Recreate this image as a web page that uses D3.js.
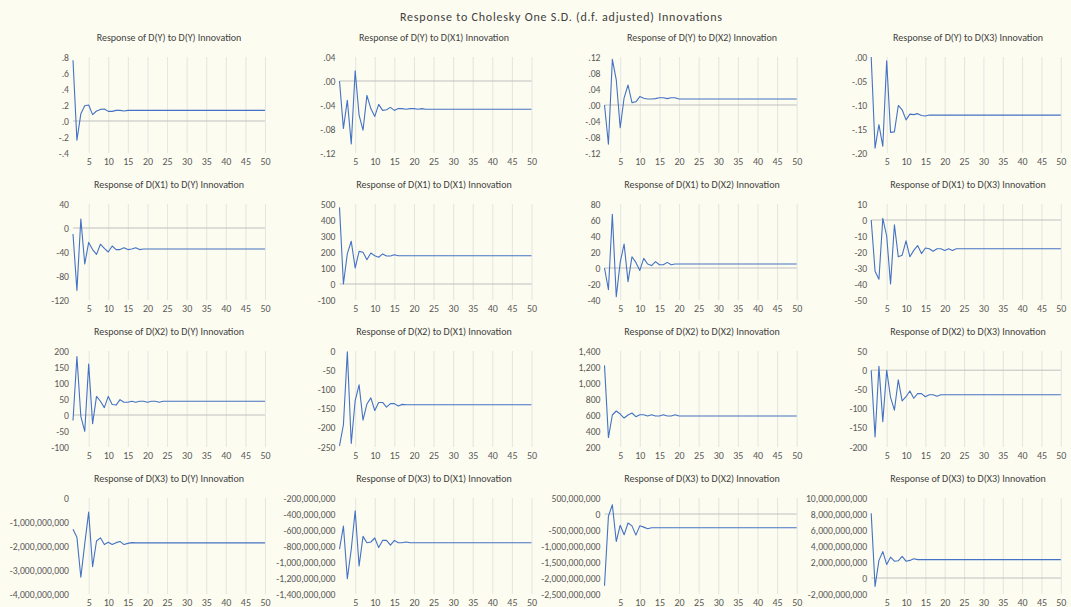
<!DOCTYPE html>
<html>
<head>
<meta charset="utf-8">
<script src="https://cdn.jsdelivr.net/npm/d3@7"></script>
<style>
body { margin: 0; background: #fdfcf0; }
svg text { font-family: Calibri, Carlito, Lato, "Liberation Sans", sans-serif; }
</style>
</head>
<body>
<script>
// periods 1..50 on the x axis, labels every 5
const periods = d3.range(1, 51);
const xTicks = [5, 10, 15, 20, 25, 30, 35, 40, 45, 50];

const mainTitle = "Response to Cholesky One S.D. (d.f. adjusted) Innovations";
const names = ["D(Y)", "D(X1)", "D(X2)", "D(X3)"];

// responses of D(Y)
const y_y  = [0.76,-0.24,0.09,0.19,0.20,0.08,0.125,0.145,0.15,0.12,0.12,0.133,0.133,0.125,0.133,0.133,0.133,0.133,0.133,0.133,0.133,0.133,0.133,0.133,0.133,0.133,0.133,0.133,0.133,0.133,0.133,0.133,0.133,0.133,0.133,0.133,0.133,0.133,0.133,0.133,0.133,0.133,0.133,0.133,0.133,0.133,0.133,0.133,0.133,0.133];
const y_x1 = [0,-0.079,-0.032,-0.105,0.017,-0.057,-0.082,-0.024,-0.046,-0.059,-0.039,-0.049,-0.048,-0.044,-0.049,-0.046,-0.046,-0.047,-0.046,-0.046,-0.047,-0.046,-0.047,-0.047,-0.047,-0.047,-0.047,-0.047,-0.047,-0.047,-0.047,-0.047,-0.047,-0.047,-0.047,-0.047,-0.047,-0.047,-0.047,-0.047,-0.047,-0.047,-0.047,-0.047,-0.047,-0.047,-0.047,-0.047,-0.047,-0.047];
const y_x2 = [0,-0.098,0.114,0.063,-0.057,0.018,0.05,0.006,0.008,0.021,0.017,0.015,0.015,0.016,0.018,0.018,0.016,0.018,0.018,0.015,0.015,0.015,0.015,0.015,0.015,0.015,0.015,0.015,0.015,0.015,0.015,0.015,0.015,0.015,0.015,0.015,0.015,0.015,0.015,0.015,0.015,0.015,0.015,0.015,0.015,0.015,0.015,0.015,0.015,0.015];
const y_x3 = [0,-0.19,-0.141,-0.186,-0.008,-0.157,-0.156,-0.101,-0.11,-0.131,-0.119,-0.12,-0.118,-0.122,-0.123,-0.121,-0.121,-0.121,-0.121,-0.121,-0.121,-0.121,-0.121,-0.121,-0.121,-0.121,-0.121,-0.121,-0.121,-0.121,-0.121,-0.121,-0.121,-0.121,-0.121,-0.121,-0.121,-0.121,-0.121,-0.121,-0.121,-0.121,-0.121,-0.121,-0.121,-0.121,-0.121,-0.121,-0.121,-0.121];

// responses of D(X1)
const x1_y  = [-10,-104,15,-60,-24,-36,-44,-27,-34,-40,-30,-36,-36,-33,-36,-35,-33,-36,-35,-35,-35,-35,-35,-35,-35,-35,-35,-35,-35,-35,-35,-35,-35,-35,-35,-35,-35,-35,-35,-35,-35,-35,-35,-35,-35,-35,-35,-35,-35,-35];
const x1_x1 = [479,0,190,267,100,204,198,152,194,177,167,188,175,175,183,177,177,177,177,177,177,177,177,177,177,177,177,177,177,177,177,177,177,177,177,177,177,177,177,177,177,177,177,177,177,177,177,177,177,177];
const x1_x2 = [0,-27,67,-36,7,30,-17,14,7,-3,12,5,3,8,4,4,7,4,5,5,5,5,5,5,5,5,5,5,5,5,5,5,5,5,5,5,5,5,5,5,5,5,5,5,5,5,5,5,5,5];
const x1_x3 = [0,-32,-37,1,-10,-40,-3,-23,-22,-13,-23,-19,-16,-21,-17.5,-18,-19.5,-18,-18,-19,-18,-19,-18,-18,-18,-18,-18,-18,-18,-18,-18,-18,-18,-18,-18,-18,-18,-18,-18,-18,-18,-18,-18,-18,-18,-18,-18,-18,-18,-18];

// responses of D(X2)
const x2_y  = [-17,183,-4,-51,159,-27,58,43,23,58,33,31,48,40,40,43,40,43,43,40,43,43,40,43,43,43,43,43,43,43,43,43,43,43,43,43,43,43,43,43,43,43,43,43,43,43,43,43,43,43];
const x2_x1 = [-247,-192,-2,-241,-129,-88,-180,-138,-122,-155,-134,-134,-146,-137,-137,-143,-139,-140,-140,-140,-140,-140,-140,-140,-140,-140,-140,-140,-140,-140,-140,-140,-140,-140,-140,-140,-140,-140,-140,-140,-140,-140,-140,-140,-140,-140,-140,-140,-140,-140];
const x2_x2 = [1220,318,600,650,612,562,600,625,579,604,604,587,604,587,587,604,587,587,604,587,588,588,588,588,588,588,588,588,588,588,588,588,588,588,588,588,588,588,588,588,588,588,588,588,588,588,588,588,588,588];
const x2_x3 = [0,-174,10,-134,0,-71,-104,-25,-80,-69,-54,-73,-61,-61,-69,-64,-64,-68,-64,-64,-64,-64,-64,-64,-64,-64,-64,-64,-64,-64,-64,-64,-64,-64,-64,-64,-64,-64,-64,-64,-64,-64,-64,-64,-64,-64,-64,-64,-64,-64];

// responses of D(X3)
const x3_y  = [-1.3e9,-1.64e9,-3.3e9,-1.9e9,-0.59e9,-2.86e9,-1.79e9,-1.66e9,-1.94e9,-1.84e9,-1.94e9,-1.86e9,-1.81e9,-1.94e9,-1.89e9,-1.86e9,-1.87e9,-1.87e9,-1.87e9,-1.87e9,-1.87e9,-1.87e9,-1.87e9,-1.87e9,-1.87e9,-1.87e9,-1.87e9,-1.87e9,-1.87e9,-1.87e9,-1.87e9,-1.87e9,-1.87e9,-1.87e9,-1.87e9,-1.87e9,-1.87e9,-1.87e9,-1.87e9,-1.87e9,-1.87e9,-1.87e9,-1.87e9,-1.87e9,-1.87e9,-1.87e9,-1.87e9,-1.87e9,-1.87e9,-1.87e9];
const x3_x1 = [-8.4e8,-5.5e8,-12.1e8,-8.4e8,-3.6e8,-10.5e8,-6.8e8,-7.6e8,-7.5e8,-7.0e8,-8.2e8,-7.3e8,-7.3e8,-7.9e8,-7.3e8,-7.6e8,-7.6e8,-7.5e8,-7.6e8,-7.6e8,-7.6e8,-7.6e8,-7.6e8,-7.6e8,-7.6e8,-7.6e8,-7.6e8,-7.6e8,-7.6e8,-7.6e8,-7.6e8,-7.6e8,-7.6e8,-7.6e8,-7.6e8,-7.6e8,-7.6e8,-7.6e8,-7.6e8,-7.6e8,-7.6e8,-7.6e8,-7.6e8,-7.6e8,-7.6e8,-7.6e8,-7.6e8,-7.6e8,-7.6e8,-7.6e8];
const x3_x2 = [-22.4e8,-0.7e8,2.9e8,-8.6e8,-3.5e8,-6.5e8,-2.8e8,-3.7e8,-6.6e8,-3.7e8,-4.1e8,-4.6e8,-4.3e8,-4.3e8,-4.3e8,-4.3e8,-4.3e8,-4.3e8,-4.3e8,-4.3e8,-4.3e8,-4.3e8,-4.3e8,-4.3e8,-4.3e8,-4.3e8,-4.3e8,-4.3e8,-4.3e8,-4.3e8,-4.3e8,-4.3e8,-4.3e8,-4.3e8,-4.3e8,-4.3e8,-4.3e8,-4.3e8,-4.3e8,-4.3e8,-4.3e8,-4.3e8,-4.3e8,-4.3e8,-4.3e8,-4.3e8,-4.3e8,-4.3e8,-4.3e8,-4.3e8];
const x3_x3 = [8.1e9,-1.05e9,2.2e9,3.3e9,1.7e9,2.6e9,2.1e9,2.15e9,2.7e9,2.1e9,2.2e9,2.4e9,2.3e9,2.3e9,2.3e9,2.3e9,2.3e9,2.3e9,2.3e9,2.3e9,2.3e9,2.3e9,2.3e9,2.3e9,2.3e9,2.3e9,2.3e9,2.3e9,2.3e9,2.3e9,2.3e9,2.3e9,2.3e9,2.3e9,2.3e9,2.3e9,2.3e9,2.3e9,2.3e9,2.3e9,2.3e9,2.3e9,2.3e9,2.3e9,2.3e9,2.3e9,2.3e9,2.3e9,2.3e9,2.3e9];

// y tick values per panel (row = response, col = innovation)
const yTicks = [
  [[0.8,0.6,0.4,0.2,0,-0.2,-0.4], [0.04,0,-0.04,-0.08,-0.12], [0.12,0.08,0.04,0,-0.04,-0.08,-0.12], [0,-0.05,-0.10,-0.15,-0.20]],
  [[40,0,-40,-80,-120], [500,400,300,200,100,0,-100], [80,60,40,20,0,-20,-40], [10,0,-10,-20,-30,-40,-50]],
  [[200,150,100,50,0,-50,-100], [0,-50,-100,-150,-200,-250], [1400,1200,1000,800,600,400,200], [50,0,-50,-100,-150,-200]],
  [[0,-1e9,-2e9,-3e9,-4e9], [-2e8,-4e8,-6e8,-8e8,-1e9,-1.2e9,-1.4e9], [5e8,0,-5e8,-1e9,-1.5e9,-2e9,-2.5e9], [1e10,8e9,6e9,4e9,2e9,0,-2e9]]
];
const yDecimals = [[1,2,2,2],[-1,-1,-1,-1],[-1,-1,-1,-1],[-1,-1,-1,-1]];

const series = [
  [y_y, y_x1, y_x2, y_x3],
  [x1_y, x1_x1, x1_x2, x1_x3],
  [x2_y, x2_x1, x2_x2, x2_x3],
  [x3_y, x3_x1, x3_x2, x3_x3]
];

const W = 1071, H = 607;
const colLeft = [73, 339.5, 604.5, 871.2];
const colRight = [265, 531.5, 796.7, 1060.8];
const colTitleX = [169, 434, 702, 968];
const rowTop = [57, 204, 351, 498];
const plotH = 96;
const font = "Calibri, Carlito, Lato, sans-serif";

const svg = d3.select("body").append("svg")
  .attr("width", W)
  .attr("height", H);

svg.append("text")
  .attr("x", 561)
  .attr("y", 21)
  .attr("text-anchor", "middle")
  .attr("font-size", 12)
  .attr("fill", "#404040")
  .attr("textLength", 322)
  .attr("lengthAdjust", "spacing")
  .text(mainTitle);

function fmt(dec) {
  if (dec < 0) return v => d3.format(",")(v).replace("\u2212", "-");
  return v => d3.format("." + dec + "f")(v).replace("\u2212", "-").replace(/^(-?)0\./, "$1.");
}

for (let r = 0; r < 4; r++) {
  for (let c = 0; c < 4; c++) {
    const ticks = yTicks[r][c];
    const top = rowTop[r], bottom = top + plotH;
    const x = d3.scaleLinear().domain([1, 50]).range([colLeft[c], colRight[c]]);
    const y = d3.scaleLinear().domain([d3.min(ticks), d3.max(ticks)]).range([bottom, top]);
    const g = svg.append("g");

    g.append("text")
      .attr("x", colTitleX[c])
      .attr("y", top - 16.5)
      .attr("text-anchor", "middle")
      .attr("font-size", 10)
      .attr("fill", "#404040")
      .text("Response of " + names[r] + " to " + names[c] + " Innovation");

    // vertical gridlines
    const grid = g.append("g")
      .attr("transform", "translate(0," + bottom + ")")
      .call(d3.axisBottom(x).tickValues(xTicks).tickSize(-plotH).tickFormat(""));
    grid.select(".domain").remove();
    grid.selectAll("line").attr("stroke", "#dedede").attr("stroke-width", 0.8);

    // zero line
    if (y.domain()[0] < 0 && y.domain()[1] > 0) {
      g.append("line")
        .attr("x1", x(1)).attr("x2", x(50))
        .attr("y1", y(0)).attr("y2", y(0))
        .attr("stroke", "#bfbfbf")
        .attr("stroke-width", 1);
    }

    const xAxis = g.append("g")
      .attr("transform", "translate(0," + bottom + ")")
      .call(d3.axisBottom(x).tickValues(xTicks).tickSize(0).tickPadding(5));
    xAxis.select(".domain").remove();
    xAxis.selectAll("text").attr("font-size", 10).attr("fill", "#595959")
      .style("font-family", font);

    const yAxis = g.append("g")
      .attr("transform", "translate(" + (colLeft[c] - 4) + ",0)")
      .call(d3.axisLeft(y).tickValues(ticks).tickSize(0).tickPadding(0).tickFormat(fmt(yDecimals[r][c])));
    yAxis.select(".domain").remove();
    yAxis.selectAll("text").attr("font-size", 9.7).attr("fill", "#595959")
      .style("font-family", font);

    g.append("path")
      .datum(series[r][c])
      .attr("fill", "none")
      .attr("stroke", "#4472c4")
      .attr("stroke-width", 1.1)
      .attr("stroke-linejoin", "round")
      .attr("d", d3.line().x((d, i) => x(periods[i])).y(d => y(d)));
  }
}
</script>
</body>
</html>
